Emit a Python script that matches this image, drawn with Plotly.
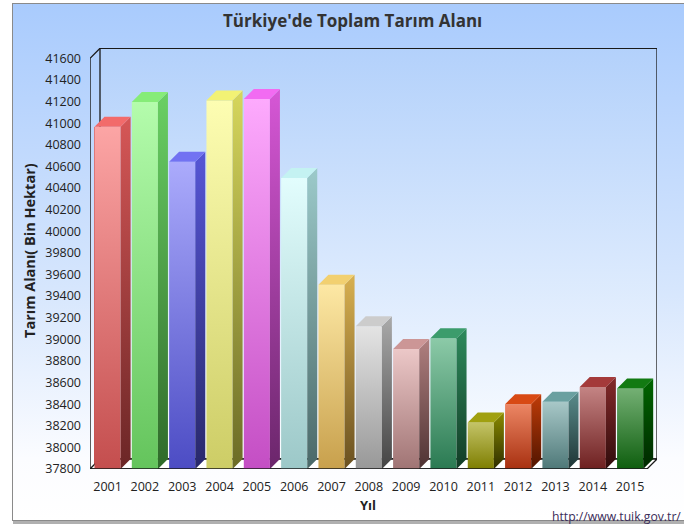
import base64
import plotly.graph_objects as go

# ---------------- data ----------------
years = ["2001", "2002", "2003", "2004", "2005", "2006", "2007", "2008",
         "2009", "2010", "2011", "2012", "2013", "2014", "2015"]
area = [40967, 41196, 40644, 41210, 41223, 40493, 39505, 39122,
        38911, 39011, 38231, 38399, 38423, 38558, 38545]
y_ticks = list(range(37800, 41601, 200))

# colours: front top, front bottom, side top, side bottom, top face
front_top = ["#fca5a5", "#b4fcac", "#ababfc", "#fdfdb2", "#fdaafd", "#e2fdfd", "#fde8a4", "#e4e4e4",
             "#ecc8c8", "#8ccaa8", "#c4c468", "#ec8664", "#a8c8c8", "#c48484", "#74b074"]
front_bot = ["#c44e4e", "#64c45c", "#4c4cc4", "#cdcd66", "#c44ec4", "#9cc8c8", "#c8a04c", "#989898",
             "#a07474", "#2a7a52", "#7e7e00", "#a83010", "#4e7878", "#6e2020", "#0e5e0e"]
side_top = ["#d65757", "#6ad064", "#5656d6", "#d6d65c", "#d657d6", "#9ccaca", "#d8b050", "#aaaaaa",
            "#b08080", "#2e8a5c", "#8a8a00", "#c03c08", "#5a8c8c", "#842a2a", "#006600"]
side_bot = ["#6b2626", "#2f6a2a", "#28286b", "#6b6b26", "#6b266b", "#4a6868", "#6a5020", "#444444",
            "#4e3232", "#123c26", "#2e2e00", "#501400", "#1e3434", "#300c0c", "#002800"]
top_col = ["#f26b6b", "#86ec78", "#7272f2", "#f2f274", "#f26bf2", "#c4f2f2", "#f2d070", "#cccccc",
           "#cc9696", "#3c9c6c", "#a0a010", "#d84a14", "#6aa0a0", "#a43a3a", "#127a12"]

# ---------------- geometry ----------------
W, H = 684, 528
L, R, T, B = 90, 27, 48, 59
YMIN, YMAX = 37800, 41696
X0, X1 = -0.47, 14.72
px_per_x = (W - L - R) / (X1 - X0)
px_per_y = (H - T - B) / (YMAX - YMIN)
DX = 10 / px_per_x        # depth in category units
DY = 10 / px_per_y        # depth in value units
BW = 0.70                 # bar width
XF1 = X1 - DX             # front-right edge of floor


def paper_x(px):
    return (px - L) / (W - L - R)


def paper_y(py):
    return (H - B - py) / (H - T - B)


fig = go.Figure()

# back wall
fig.add_trace(go.Scatter(
    x=[X0 + DX, XF1 + DX, XF1 + DX, X0 + DX, X0 + DX],
    y=[YMIN + DY, YMIN + DY, YMAX - 4, YMAX - 4, YMIN + DY],
    fill="toself", mode="lines", line=dict(color="#1a1a1a", width=1.3),
    fillgradient=dict(type="vertical", colorscale=[[0, "#fbfdff"], [1, "#b3d1fb"]]),
    hoverinfo="skip", showlegend=False))

# floor
fig.add_trace(go.Scatter(
    x=[X0, XF1, XF1 + DX, X0 + DX, X0],
    y=[YMIN, YMIN, YMIN + DY, YMIN + DY, YMIN],
    fill="toself", fillcolor="#ffffff", mode="lines",
    line=dict(color="#1a1a1a", width=1.3),
    hoverinfo="skip", showlegend=False))

# front bars
fig.add_trace(go.Bar(
    x=list(range(len(years))), y=[v - YMIN for v in area], base=YMIN,
    width=BW, marker=dict(color=front_bot, line=dict(width=0)),
    hovertext=[f"{y}: {v}" for y, v in zip(years, area)], hoverinfo="text",
    showlegend=False))

for i, v in enumerate(area):
    xl, xr = i - BW / 2, i + BW / 2
    # front face with gradient
    fig.add_trace(go.Scatter(
        x=[xl, xr, xr, xl, xl], y=[YMIN, YMIN, v, v, YMIN],
        fill="toself", mode="none",
        fillgradient=dict(type="vertical", colorscale=[[0, front_bot[i]], [1, front_top[i]]]),
        hoverinfo="skip", showlegend=False))
    # side face
    fig.add_trace(go.Scatter(
        x=[xr, xr + DX, xr + DX, xr, xr], y=[YMIN, YMIN + DY, v + DY, v, YMIN],
        fill="toself", mode="none",
        fillgradient=dict(type="vertical", colorscale=[[0, side_bot[i]], [1, side_top[i]]]),
        hoverinfo="skip", showlegend=False))
    # top face
    fig.add_trace(go.Scatter(
        x=[xl, xr, xr + DX, xl + DX, xl], y=[v, v, v + DY, v + DY, v],
        fill="toself", mode="none", fillcolor=top_col[i],
        hoverinfo="skip", showlegend=False))

# front axis lines
fig.add_trace(go.Scatter(
    x=[X0 + DX, X0, X0, XF1], y=[41600 + DY, 41600, YMIN, YMIN],
    mode="lines", line=dict(color="#1a1a1a", width=1.4),
    hoverinfo="skip", showlegend=False, cliponaxis=False))

# background frame as SVG gradient image
fx0, fy0, fx1, fy1 = 12, 3, 690, 524
fw, fh = fx1 - fx0, fy1 - fy0
svg = f'''<svg xmlns="http://www.w3.org/2000/svg" width="{fw}" height="{fh}" viewBox="0 0 {fw} {fh}" preserveAspectRatio="none">
<defs><linearGradient id="g" x1="0" y1="0" x2="0" y2="1">
<stop offset="0" stop-color="#a9cbfd"/><stop offset="0.55" stop-color="#d6e6fd"/>
<stop offset="0.88" stop-color="#fbfcff"/><stop offset="1" stop-color="#ffffff"/></linearGradient></defs>
<rect x="0.5" y="0.5" width="{fw + 5}" height="{fh - 4}" fill="url(#g)" stroke="#8a8a8a" stroke-width="1"/>
<rect x="1" y="{fh - 3}" width="{fw}" height="3" fill="#b0b0b0"/>
</svg>'''
src = "data:image/svg+xml;base64," + base64.b64encode(svg.encode()).decode()

fig.add_layout_image(dict(
    source=src, xref="paper", yref="paper",
    x=paper_x(fx0), y=paper_y(fy0),
    sizex=paper_x(fx1) - paper_x(fx0), sizey=paper_y(fy0) - paper_y(fy1),
    xanchor="left", yanchor="top", sizing="stretch", layer="below"))

annos = [
    dict(text="<b>Türkiye'de Toplam Tarım Alanı</b>", x=paper_x(352), y=paper_y(20),
         font=dict(size=17, color="#333333", family="Open Sans")),
    dict(text="<b>Tarım Alanı( Bin Hektar)</b>", x=paper_x(29), y=paper_y(251), textangle=-90,
         font=dict(size=14.5, color="#222222", family="Open Sans")),
    dict(text="<b>Yıl</b>", x=paper_x(368), y=paper_y(505),
         font=dict(size=13, color="#222222", family="Open Sans")),
    dict(text="http://www.tuik.gov.tr/", x=paper_x(683), y=paper_y(516), xanchor="right",
         font=dict(size=12.2, color="#3a2c58", family="Open Sans")),
]
for a in annos:
    a.setdefault("xanchor", "center")
    fig.add_annotation(xref="paper", yref="paper", yanchor="middle", showarrow=False, **a)

fig.update_layout(
    width=W, height=H,
    margin=dict(l=L, r=R, t=T, b=B, pad=0),
    paper_bgcolor="#ffffff", plot_bgcolor="rgba(0,0,0,0)",
    bargap=0, showlegend=False,
    font=dict(family="Open Sans", size=12, color="#222222"),
    xaxis=dict(range=[X0, X1], tickvals=list(range(len(years))), ticktext=years,
               showgrid=False, zeroline=False, showline=False, ticks="",
               ticklabelstandoff=8, tickfont=dict(size=12.5, color="#222222")),
    yaxis=dict(range=[YMIN, YMAX], tickvals=y_ticks, ticktext=[str(t) for t in y_ticks],
               showgrid=False, zeroline=False, showline=False, ticks="",
               ticklabelstandoff=8, tickfont=dict(size=12.5, color="#222222")),
)

fig.write_html("out.html", config={"displayModeBar": False},
               post_script="document.body.style.margin='0';document.body.style.overflow='hidden';")
